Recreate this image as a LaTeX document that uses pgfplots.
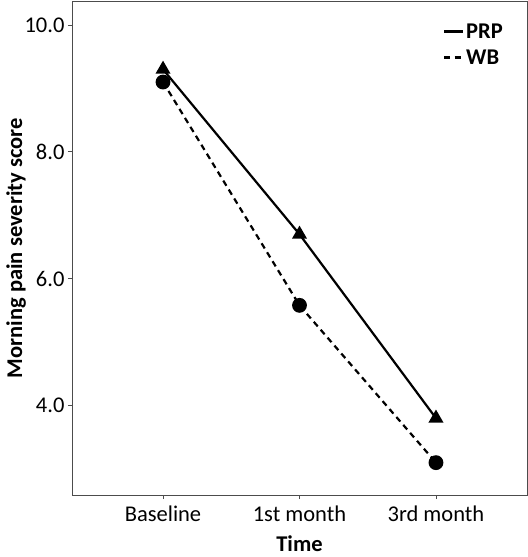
\documentclass[border=0pt]{standalone}
\usepackage{pgfplots}
\pgfplotsset{compat=1.18}
\usepackage{fontspec}
\setmainfont{Carlito}
\usetikzlibrary{calc}
\begin{document}
\begin{tikzpicture}
\begin{axis}[name=ax,
  scale only axis, width=455bp, height=493.5bp,
  xmin=-0.667, xmax=2.667, ymin=2.59, ymax=10.37,
  xtick={0,1,2}, xticklabels={Baseline,1st month,3rd month},
  ytick={4,6,8,10},
  /pgf/number format/assume math mode=true,
  yticklabel style={/pgf/number format/fixed, /pgf/number format/fixed zerofill, /pgf/number format/precision=1},
  xticklabel style={yshift=-3bp},
  tick align=outside, major tick length=4bp,
  tick style={black!70, line width=0.8bp},
  axis line style={black!70, line width=0.8bp},
  xtick pos=bottom, ytick pos=left,
  tick label style={font=\fontsize{22.5bp}{27bp}\selectfont},
  label style={font=\bfseries\fontsize{22.5bp}{27bp}\selectfont},
  xlabel={Time}, ylabel={Morning pain severity score},
  xlabel style={at={(axis description cs:0.5,-0.099)}, anchor=center, inner sep=0pt},
  ylabel style={at={(axis description cs:-0.123,0.5)}, anchor=center, inner sep=0pt},
  legend image code/.code={\draw[#1, mark=none] (0bp,0bp) -- (19bp,0bp);},
  legend style={draw=none, fill=none, at={(axis description cs:0.815,0.96)}, anchor=north west, inner sep=0pt,
    font=\bfseries\fontsize{22.5bp}{26bp}\selectfont, row sep=6bp},
  legend cell align=left,
]
\addplot[black, line width=2.2bp, mark=triangle*, mark size=6.5bp, mark options={solid}]
  coordinates {(0,9.3) (1,6.7) (2,3.8)};
\addlegendentry{PRP}
\addplot[black, line width=2.2bp, dash pattern=on 6bp off 4.5bp, mark=*, mark size=6.3bp, mark options={solid}]
  coordinates {(0,9.1) (1,5.58) (2,3.1)};
\addlegendentry{WB}
\end{axis}
\pgfresetboundingbox
\useasboundingbox ($(ax.south west)+(-72bp,-62bp)$) rectangle ($(ax.north east)+(1bp,1.5bp)$);
\end{tikzpicture}
\end{document}
